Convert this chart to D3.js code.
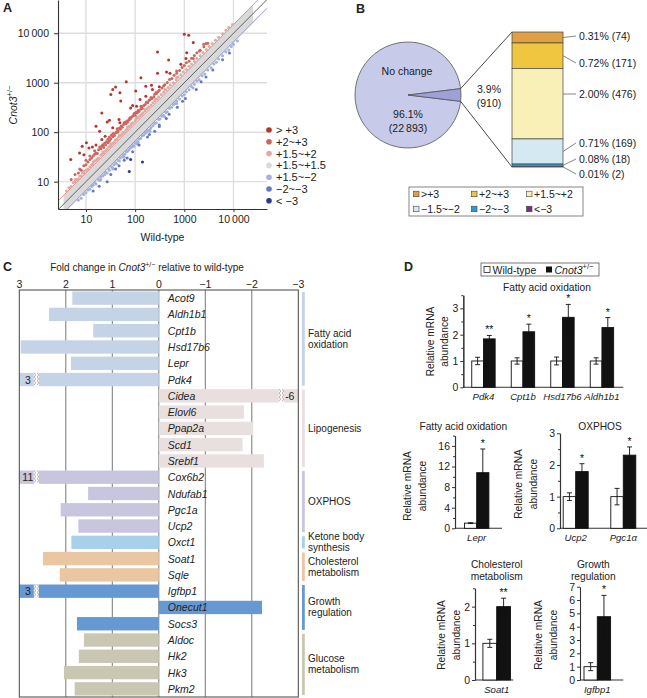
<!DOCTYPE html>
<html><head><meta charset="utf-8">
<script src="https://cdn.jsdelivr.net/npm/d3@7/dist/d3.min.js"></script>
<style>
html,body{margin:0;padding:0;background:#fff;}
svg{display:block;font-family:"Liberation Sans",Arial,Helvetica,sans-serif;}
</style></head><body>
<svg id="fig" width="647" height="698"></svg>
<script>
// ======================= DATA =======================
// ---- Panel A: scatter, [wild-type, Cnot3+/-] ----
const aTicks = [10, 100, 1000, 10000];
const aTickLabels = ["10", "100", "1000", "10\u2009000"];
const aLegendLabels = ["> +3", "+2~+3", "+1.5~+2", "+1.5~+1.5", "+1.5~\u22122", "\u22122~\u22123", "< \u22123"];
const aRefRatios = [1, 1.5, 1 / 1.5];
const aNoChangeRange = [3.5, 25000];
const aUp3 = [[1000,9500],[1230,9100],[1520,6500],[1120,4050],[285,4200],[480,2880],[1080,3080],[850,2350],[435,1650],[510,1550],[285,1550],[131,1260],[66,1050],[40,815],[35,730],[32,580],[49,630],[215,890],[225,730],[310,830],[103,680],[165,535],[51,425],[81,310],[107,335],[89,345],[21,245],[27,160],[16,132],[30,175],[47,180],[35,123],[19,105],[24.5,83],[8.4,52],[10.2,61],[13.5,50],[7.4,38],[9.1,35],[11.5,48],[16,55],[4.9,28],[21,71],[49,155],[126,460],[165,850]];
const aUp2 = [[5,11],[6,14],[7,15],[7.5,18],[8,17],[9,21],[10,22],[10,27],[11,25],[12,28],[12,33],[13,30],[14,33],[15,36],[15,42],[16,38],[17,37],[18,44],[19,50],[20,46],[21,52],[22,56],[23,49],[24,60],[25,55],[26,64],[28,61],[28,72],[30,66],[30,80],[32,73],[33,88],[35,81],[36,94],[38,86],[40,96],[42,102],[43,118],[45,106],[48,122],[50,114],[52,133],[55,126],[58,143],[62,158],[65,148],[68,168],[70,158],[75,176],[78,195],[80,186],[85,202],[90,212],[95,232],[100,221],[105,252],[110,243],[115,275],[120,262],[130,292],[135,325],[140,302],[150,345],[160,362],[170,405],[180,392],[190,435],[200,452],[210,505],[220,482],[240,523],[250,585],[270,603],[290,655],[310,705],[350,785],[380,860],[400,905],[450,1010],[500,1160],[560,1215],[620,1410],[700,1560],[800,1760],[900,2020],[1000,2230],[1100,2520],[1250,2720],[1400,3120],[1600,3530],[1800,4030],[2100,4520],[2500,5350],[3000,6250],[2470,6000],[2760,6200],[2030,4400],[1520,3080],[695,1730],[265,630],[131,335],[60,155],[76,180],[44,100],[96,240]];
const aUp15 = [[4,6.5],[4.5,7.5],[5,8],[5.5,9.5],[6,10],[6.5,11],[7,11.5],[7.5,13],[8,13],[8.5,15],[9,15],[10,17],[11,18],[12,20],[13,22],[14,23],[15,26],[16,27],[17,29],[18,30],[20,34],[21,36],[23,38],[25,42],[27,45],[29,50],[31,52],[33,57],[35,60],[38,64],[40,70],[43,72],[46,80],[50,85],[53,90],[57,98],[60,100],[65,112],[70,118],[75,130],[80,135],[85,148],[90,155],[100,170],[105,185],[115,195],[125,215],[135,230],[145,250],[160,270],[175,300],[190,325],[210,355],[230,395],[250,430],[280,470],[300,520],[340,580],[380,640],[420,720],[470,800],[520,900],[600,1000],[680,1150],[750,1300],[850,1450],[950,1650],[1100,1850],[1250,2150],[1400,2400],[1600,2700],[1800,3100],[2100,3500],[2400,4100],[2800,4700],[3200,5400],[3700,6200],[4300,7200],[5000,8300],[6000,9800],[7000,11500],[8000,13000],[9500,15000],[6,11],[9,16.5],[14,25],[22,40],[32,58],[48,88],[70,128],[110,200],[160,290],[260,470],[400,730],[700,1280]];
const aDown15 = [[7,4.2],[8,4.6],[9,5.5],[10,6],[11,6.8],[12,7],[13,8],[14,8.5],[15,9.5],[16,9],[18,11],[19,10.5],[20,12.5],[22,13],[24,14],[25,15.5],[27,15],[29,18],[30,17],[33,20],[35,19],[37,22],[40,24],[42,23],[45,27],[48,26],[50,30],[55,32],[58,35],[62,36],[66,40],[70,41],[75,44],[80,48],[85,50],[90,54],[95,52],[100,60],[110,65],[115,62],[120,72],[130,75],[140,85],[150,88],[160,95],[170,100],[180,108],[200,115],[210,125],[230,135],[250,150],[270,155],[300,180],[320,185],[350,210],[380,220],[420,250],[450,260],[500,300],[550,320],[600,360],[650,380],[700,420],[800,470],[900,540],[1000,580],[1100,660],[1250,720],[1400,840],[1600,930],[1800,1080],[2000,1150],[2300,1380],[2600,1500],[3000,1800],[3500,2000],[4000,2400],[4500,2600],[5000,3000],[6000,3500],[7000,4200],[8000,4600],[9000,5400],[10000,6000],[12000,7000],[20,11],[35,18],[60,31],[110,58],[200,105],[400,205],[700,380],[1500,780]];
const aDown2 = [[2200,1050],[1750,730],[1050,480],[8300,4000],[490,230],[310,140],[195,90],[120,55],[89,40],[47,21],[40,18],[27,10],[18.6,8.1],[32,14],[178,80],[310,130],[720,320],[2760,1300],[3800,1800],[6000,2900],[69,30],[430,190],[920,420],[14,6.5],[60,27],[250,105]];
const aDown3 = [[81,28],[76,16],[141,25]];

// ---- Panel B: pie + stacked bar ----
const bPieValues = [22893, 910];
const bPiePct = ["96.1%", "3.9%"];
const bPieCountText = ["(22\u2009893)", "(910)"];
const bPieTitle = "No change";
const bStackLabels = [">+3", "+2~+3", "+1.5~+2", "\u22121.5~\u22122", "\u22122~\u22123", "<\u22123"];
const bStackCounts = [74, 171, 476, 169, 18, 2];
const bStackPct = ["0.31%", "0.72%", "2.00%", "0.71%", "0.08%", "0.01%"];

// ---- Panel C: fold changes ----
const cTicks = [3, 2, 1, 0, -1, -2, -3];
const cTickLabels = ["3", "2", "1", "0", "\u22121", "\u22122", "\u22123"];
const cGenes = ["Acot9","Aldh1b1","Cpt1b","Hsd17b6","Lepr","Pdk4","Cidea","Elovl6","Ppap2a","Scd1","Srebf1","Cox6b2","Ndufab1","Pgc1a","Ucp2","Oxct1","Soat1","Sqle","Igfbp1","Onecut1","Socs3","Aldoc","Hk2","Hk3","Pkm2"];
const cValues = [1.86,2.36,1.41,2.97,1.89,3,-6,-1.83,-2.03,-1.8,-2.26,11,1.52,2.11,1.73,1.88,2.49,2.13,3,-2.22,1.76,1.61,1.72,2.04,1.81];
const cBrokenLabels = {Pdk4: "3", Cidea: "-6", Cox6b2: "11", Igfbp1: "3"};
const cGroupOf = [0,0,0,0,0,0,1,1,1,1,1,2,2,2,2,3,4,4,5,5,5,6,6,6,6];
const cGroupNames = [["Fatty acid","oxidation"],["Lipogenesis"],["OXPHOS"],["Ketone body","synthesis"],["Cholesterol","metabolism"],["Growth","regulation"],["Glucose","metabolism"]];

// ---- Panel D: qPCR ----
const dLegend = ["Wild-type", "Cnot3"];
const dFaoGenes = ["Pdk4","Cpt1b","Hsd17b6","Aldh1b1"];
const dFaoWT = [1,1,1,1], dFaoWTErr = [0.14,0.12,0.15,0.12];
const dFaoKO = [1.84,2.11,2.66,2.27], dFaoKOErr = [0.13,0.29,0.49,0.38];
const dFaoSig = ["**","*","*","*"];
const dLeprGenes = ["Lepr"], dLeprWT = [1], dLeprWTErr = [0.08], dLeprKO = [10.8], dLeprKOErr = [4.6], dLeprSig = ["*"];
const dOxGenes = ["Ucp2","Pgc1\u03b1"], dOxWT = [1,1], dOxWTErr = [0.12,0.26], dOxKO = [1.79,2.31], dOxKOErr = [0.25,0.26], dOxSig = ["*","*"];
const dCholGenes = ["Soat1"], dCholWT = [1], dCholWTErr = [0.11], dCholKO = [2.0], dCholKOErr = [0.23], dCholSig = ["**"];
const dGrowGenes = ["Igfbp1"], dGrowWT = [1], dGrowWTErr = [0.3], dGrowKO = [4.75], dGrowKOErr = [1.6], dGrowSig = ["*"];

// ======================= DRAW =======================
const svg = d3.select("#fig");
svg.append("rect").attr("width", 647).attr("height", 698).attr("fill", "#fff");
const defs = svg.append("defs");
const INK = "#222";

function txt(g, x, y, s, size, o = {}) {
  const t = g.append("text").attr("x", x).attr("y", y).attr("font-size", size)
    .attr("fill", o.fill || INK).attr("text-anchor", o.anchor || "start")
    .attr("dominant-baseline", o.baseline || "central");
  if (o.italic) t.attr("font-style", "italic");
  if (o.bold) t.attr("font-weight", "bold");
  if (o.rotate) t.attr("transform", `rotate(${o.rotate},${x},${y})`);
  if (s !== null) t.text(s);
  return t;
}
function styleAxis(g, size) {
  g.attr("font-family", null).attr("font-size", null);
  g.selectAll("path.domain").attr("stroke", "#333").attr("stroke-width", 1.1);
  g.selectAll(".tick line").attr("stroke", "#333");
  g.selectAll(".tick text").attr("fill", INK).attr("font-size", size);
}

// panel letters
txt(svg, 3, 8, "A", 12.5, {bold: true});
txt(svg, 356, 9, "B", 12.5, {bold: true});
txt(svg, 3, 267, "C", 12.5, {bold: true});
txt(svg, 404, 267, "D", 12.5, {bold: true});

// ---------------- Panel A ----------------
(function () {
  const A = {l: 58, r: 267, t: 0, b: 209};
  const ax = d3.scaleLog().domain([2.7, 48000]).range([A.l, A.r]);
  const ay = d3.scaleLog().domain([2.8, 47000]).range([A.b, A.t]);
  defs.append("clipPath").attr("id", "clipA").append("rect")
    .attr("x", A.l).attr("y", A.t).attr("width", A.r - A.l).attr("height", A.b - A.t);
  const g = svg.append("g");
  g.append("g").selectAll("line").data(aTicks).join("line")
    .attr("x1", d => ax(d)).attr("x2", d => ax(d)).attr("y1", A.t).attr("y2", A.b)
    .attr("stroke", "#dedede").attr("stroke-width", 1.4);
  g.append("g").selectAll("line").data(aTicks).join("line")
    .attr("y1", d => ay(d)).attr("y2", d => ay(d)).attr("x1", A.l).attr("x2", A.r)
    .attr("stroke", "#dedede").attr("stroke-width", 1.4);
  const p = g.append("g").attr("clip-path", "url(#clipA)");
  p.append("path").datum(aNoChangeRange)
    .attr("d", d3.area().x(d => ax(d)).y0(d => ay(d / aRefRatios[1])).y1(d => ay(d * aRefRatios[1])))
    .attr("fill", "#d9d9d9");
  const refColors = ["#444", "#e07a6c", "#6f7ec8"];
  const dom = ax.domain();
  p.selectAll("path.ref").data(aRefRatios).join("path").attr("class", "ref")
    .attr("d", r => d3.line()([[ax(dom[0]), ay(dom[0] * r)], [ax(dom[1]), ay(dom[1] * r)]]))
    .attr("stroke", (r, i) => refColors[i]).attr("stroke-width", 0.8).attr("fill", "none");
  const colors = ["#b5352d", "#cd675e", "#dfaaa5", "#d9d9d9", "#a4b1de", "#6478c4", "#283a8e"];
  const series = [[aUp15, 2], [aDown15, 4], [aUp2, 1], [aDown2, 5], [aUp3, 0], [aDown3, 6]];
  series.forEach(([pts, ci]) => {
    p.append("g").selectAll("circle").data(pts).join("circle")
      .attr("cx", d => ax(d[0])).attr("cy", d => ay(d[1])).attr("r", 1.5)
      .attr("fill", colors[ci]);
  });
  const yAx = g.append("g").attr("transform", `translate(${A.l},0)`)
    .call(d3.axisLeft(ay).tickValues(aTicks).tickFormat((d, i) => aTickLabels[i]).tickSize(4).tickSizeOuter(0).tickPadding(5));
  styleAxis(yAx, 10.5);
  const xAx = g.append("g").attr("transform", `translate(0,${A.b})`)
    .call(d3.axisBottom(ax).tickValues(aTicks).tickFormat((d, i) => aTickLabels[i]).tickSize(3).tickSizeOuter(0).tickPadding(4));
  styleAxis(xAx, 10.5);
  txt(g, (A.l + A.r) / 2, 237, "Wild-type", 10.5, {anchor: "middle"});
  const yl = txt(g, 13, 105, null, 10.5, {anchor: "middle", rotate: -90});
  yl.append("tspan").attr("font-style", "italic").text("Cnot3");
  yl.append("tspan").attr("font-size", 7.5).attr("dy", -4).text("+/\u2212");
  // legend
  const lg = g.append("g");
  aLegendLabels.forEach((s, i) => {
    const y = 130 + i * 11.8;
    lg.append("circle").attr("cx", 269).attr("cy", y).attr("r", 2.8).attr("fill", colors[i]);
    txt(lg, 276, y, s, 11, {});
  });
})();

// ---------------- Panel B ----------------
(function () {
  const g = svg.append("g");
  const c = {x: 408, y: 95, r: 53};
  const total = d3.sum(bPieValues);
  const half = Math.PI * bPieValues[1] / total;
  const arcs = d3.pie().sort(null).startAngle(Math.PI / 2 + half).endAngle(Math.PI / 2 + half + 2 * Math.PI)(bPieValues);
  const arc = d3.arc().innerRadius(0).outerRadius(c.r);
  const pieColors = ["#c8cae9", "#9da1d8"];
  g.selectAll("path.slice").data(arcs).join("path").attr("class", "slice")
    .attr("transform", `translate(${c.x},${c.y})`).attr("d", arc)
    .attr("fill", (d, i) => pieColors[i]).attr("stroke", "#555").attr("stroke-width", 0.8);
  const pt = a => [c.x + c.r * Math.sin(a), c.y - c.r * Math.cos(a)];
  const tipTop = pt(arcs[1].startAngle), tipBot = pt(arcs[1].endAngle);
  txt(g, 407, 71, bPieTitle, 10.5, {anchor: "middle"});
  txt(g, 408, 114, bPiePct[0], 10.5, {anchor: "middle"});
  txt(g, 408, 128, bPieCountText[0], 10.5, {anchor: "middle"});
  txt(g, 489, 89, bPiePct[1], 10.5, {anchor: "middle"});
  txt(g, 489, 103, bPieCountText[1], 10.5, {anchor: "middle"});
  // stacked bar
  const bx0 = 512, bx1 = 563;
  const sTotal = d3.sum(bStackCounts);
  const sy = d3.scaleLinear().domain([0, sTotal]).range([32, 167]);
  const starts = Array.from(d3.cumsum([0, ...bStackCounts]));
  const stackColors = ["#dea043", "#f0c53f", "#f8f0b6", "#d4e9f2", "#2f98cf", "#7b2b8c"];
  g.append("line").attr("x1", tipTop[0]).attr("y1", tipTop[1]).attr("x2", bx0).attr("y2", sy(0)).attr("stroke", "#333").attr("stroke-width", 0.9);
  g.append("line").attr("x1", tipBot[0]).attr("y1", tipBot[1]).attr("x2", bx0).attr("y2", sy(sTotal)).attr("stroke", "#333").attr("stroke-width", 0.9);
  g.selectAll("rect.seg").data(bStackCounts).join("rect").attr("class", "seg")
    .attr("x", bx0).attr("width", bx1 - bx0)
    .attr("y", (d, i) => sy(starts[i])).attr("height", d => sy(d) - sy(0))
    .attr("fill", (d, i) => stackColors[i]).attr("stroke", "#444").attr("stroke-width", 0.7);
  const labelY = [36, 63, 94, 143, 159, 174];
  bStackCounts.forEach((d, i) => {
    const top = sy(starts[i]), bot = sy(starts[i + 1]);
    const mid = (top + bot) / 2;
    const sy0 = (labelY[i] >= top && labelY[i] <= bot && bot - top > 40) ? labelY[i] : mid;
    g.append("line").attr("x1", bx1).attr("y1", sy0).attr("x2", 576).attr("y2", labelY[i]).attr("stroke", "#666").attr("stroke-width", 0.8);
    txt(g, 579, labelY[i], `${bStackPct[i]} (${d})`, 10.5, {});
  });
  // legend
  g.append("rect").attr("x", 409).attr("y", 187).attr("width", 174).attr("height", 29)
    .attr("fill", "#fff").attr("stroke", "#666").attr("stroke-width", 0.8);
  const colX = [416, 474, 529], rowY = [194, 209];
  bStackLabels.forEach((s, i) => {
    const x = colX[i % 3], y = rowY[Math.floor(i / 3)];
    g.append("rect").attr("x", x - 2.5).attr("y", y - 2.8).attr("width", 5.5).attr("height", 5.5)
      .attr("fill", stackColors[i]).attr("stroke", "#444").attr("stroke-width", 0.6);
    txt(g, x + 5, y, s, 10.5, {});
  });
})();

// ---------------- Panel C ----------------
(function () {
  const g = svg.append("g");
  const box = {l: 19.3, r: 298.3, t: 290, b: 697};
  const cx = d3.scaleLinear().domain([3, -3]).range([box.l, box.r]);
  const cy = d3.scaleBand().domain(cGenes).range([box.t, box.b]).paddingInner(0.18).paddingOuter(0.09);
  const groupColors = ["#c5d3e7", "#e9dfdf", "#c8c5de", "#a7d1ea", "#eac6a3", "#6699d3", "#c9c7b1"];
  const t = txt(g, 147, 267, "Fold change in ", 10, {anchor: "middle"});
  t.append("tspan").attr("font-style", "italic").text("Cnot3");
  t.append("tspan").attr("font-size", 7).attr("dy", -3.5).text("+/\u2212");
  t.append("tspan").attr("dy", 3.5).text(" relative to wild-type");
  cTicks.forEach((v, i) => txt(g, cx(v), 283.5, cTickLabels[i], 10.5, {anchor: "middle"}));
  g.append("g").selectAll("line").data(cTicks.slice(1, -1)).join("line")
    .attr("x1", d => cx(d)).attr("x2", d => cx(d)).attr("y1", box.t).attr("y2", box.b)
    .attr("stroke", "#555").attr("stroke-width", 0.8);
  const lim = v => Math.max(-3, Math.min(3, v));
  g.append("g").selectAll("rect").data(cGenes).join("rect")
    .attr("x", (d, i) => Math.min(cx(0), cx(lim(cValues[i]))))
    .attr("width", (d, i) => Math.abs(cx(lim(cValues[i])) - cx(0)))
    .attr("y", d => cy(d)).attr("height", cy.bandwidth())
    .attr("fill", (d, i) => groupColors[cGroupOf[i]]);
  function squiggle(x, y, h) {
    g.append("rect").attr("x", x - 0.5).attr("y", y).attr("width", 5).attr("height", h).attr("fill", "#fff");
    [x, x + 3].forEach(xx => {
      let d = `M${xx},${y}`;
      for (let k = 1; k * 2 <= h; k++) d += `L${xx + (k % 2 ? 1.3 : 0)},${y + k * 2}`;
      g.append("path").attr("d", d).attr("fill", "none").attr("stroke", "#888").attr("stroke-width", 0.7);
    });
  }
  cGenes.forEach((gname, i) => {
    if (cBrokenLabels[gname] === undefined) return;
    const end = cx(lim(cValues[i])), y = cy(gname), h = cy.bandwidth();
    const dir = cValues[i] > 0 ? 1 : -1;
    txt(g, end + dir * 8.5, y + h / 2, cBrokenLabels[gname], 10.5, {anchor: "middle"});
    squiggle(dir > 0 ? end + 15 : end - 19, y, h);
  });
  g.append("rect").attr("x", box.l).attr("y", box.t).attr("width", box.r - box.l).attr("height", box.b - box.t)
    .attr("fill", "none").attr("stroke", "#444").attr("stroke-width", 1);
  cGenes.forEach(d => txt(g, cx(0) + 9, cy(d) + cy.bandwidth() / 2, d, 10.5, {italic: true}));
  cGroupNames.forEach((names, gi) => {
    const idx = cGenes.filter((d, i) => cGroupOf[i] === gi);
    const y0 = cy(idx[0]) - cy.step() * cy.paddingInner() / 2 + 2;
    const y1 = cy(idx[idx.length - 1]) + cy.bandwidth() + cy.step() * cy.paddingInner() / 2 - 2;
    g.append("rect").attr("x", 302).attr("y", y0).attr("width", 2.8).attr("height", Math.min(y1, 698) - y0)
      .attr("fill", groupColors[gi]);
    const mid = (y0 + y1) / 2;
    names.forEach((s, k) => txt(g, 308, mid + (k - (names.length - 1) / 2) * 11, s, 10, {}));
  });
})();

// ---------------- Panel D ----------------
(function () {
  const g = svg.append("g");
  g.append("rect").attr("x", 481).attr("y", 263).attr("width", 118).attr("height", 13)
    .attr("fill", "#fff").attr("stroke", "#555").attr("stroke-width", 0.8);
  g.append("rect").attr("x", 484).attr("y", 266.5).attr("width", 6).attr("height", 6).attr("fill", "#fff").attr("stroke", "#222").attr("stroke-width", 0.8);
  txt(g, 492.5, 269.5, dLegend[0], 10.5, {});
  g.append("rect").attr("x", 546).attr("y", 266.5).attr("width", 6).attr("height", 6).attr("fill", "#111");
  const lt = txt(g, 554.5, 269.5, null, 10.5, {});
  lt.append("tspan").attr("font-style", "italic").text(dLegend[1]);
  lt.append("tspan").attr("font-size", 7.5).attr("dy", -3.5).text("+/\u2212");

  const charts = [
    {genes: dFaoGenes, wt: dFaoWT, wtErr: dFaoWTErr, ko: dFaoKO, koErr: dFaoKOErr, sig: dFaoSig,
     yMax: 3.5, major: [0, 1, 2, 3], minor: 0.5, axisX: 463.3, xEnd: 623.3, band: [463.7, 621.7], y0: 387.3, yTop: 295.2,
     barW: 11.7, title: ["Fatty acid oxidation"], tx: 547, ty: 287.5, yl: [430, 444.5], yly: 341.5},
    {genes: dLeprGenes, wt: dLeprWT, wtErr: dLeprWTErr, ko: dLeprKO, koErr: dLeprKOErr, sig: dLeprSig,
     yMax: 18, major: [0, 4, 8, 12, 16], minor: 2, axisX: 455, xEnd: 502, band: [455, 498.4], y0: 528.3, yTop: 435.6,
     barW: 12.2, title: ["Fatty acid oxidation"], tx: 463.3, ty: 426, yl: [407.5, 422], yly: 486},
    {genes: dOxGenes, wt: dOxWT, wtErr: dOxWTErr, ko: dOxKO, koErr: dOxKOErr, sig: dOxSig,
     yMax: 3, major: [0, 1, 2, 3], minor: 0.5, axisX: 560, xEnd: 647, band: [551.9, 647.1], y0: 528.3, yTop: 433.3,
     barW: 12.5, title: ["OXPHOS"], tx: 600, ty: 426, yl: [518.5, 533], yly: 484},
    {genes: dCholGenes, wt: dCholWT, wtErr: dCholWTErr, ko: dCholKO, koErr: dCholKOErr, sig: dCholSig,
     yMax: 2.5, major: [0, 1, 2], minor: 0.5, axisX: 475, xEnd: 513.3, band: [475, 518.4], y0: 680, yTop: 588.3,
     barW: 13.8, title: ["Cholesterol", "metabolism"], tx: 496.7, ty: 564.3, yl: [441.5, 456], yly: 635},
    {genes: dGrowGenes, wt: dGrowWT, wtErr: dGrowWTErr, ko: dGrowKO, koErr: dGrowKOErr, sig: dGrowSig,
     yMax: 7, major: [0, 1, 2, 3, 4, 5, 6, 7], minor: null, axisX: 580, xEnd: 623.3, band: [580, 614.6], y0: 680, yTop: 586.7,
     barW: 13.3, title: ["Growth", "regulation"], tx: 593.3, ty: 564.3, yl: [538.5, 553], yly: 635}
  ];
  charts.forEach(c => {
    const cg = g.append("g");
    const y = d3.scaleLinear().domain([0, c.yMax]).range([c.y0, c.yTop]);
    const x = d3.scaleBand().domain(c.genes).range(c.band);
    c.title.forEach((s, k) => txt(cg, c.tx, c.ty + k * 11.7, s, 10.2, {anchor: "middle"}));
    txt(cg, c.yl[0], c.yly, "Relative mRNA", 10.2, {anchor: "middle", rotate: -90});
    txt(cg, c.yl[1], c.yly, "abundance", 10.2, {anchor: "middle", rotate: -90});
    if (c.minor) {
      const minors = d3.range(0, c.yMax + 1e-9, c.minor).filter(v => !c.major.includes(v));
      const mAx = cg.append("g").attr("transform", `translate(${c.axisX},0)`)
        .call(d3.axisLeft(y).tickValues(minors).tickFormat("").tickSize(2).tickSizeOuter(0));
      styleAxis(mAx, 10);
    }
    const yAx = cg.append("g").attr("transform", `translate(${c.axisX},0)`)
      .call(d3.axisLeft(y).tickValues(c.major).tickFormat(d3.format("d")).tickSize(3).tickSizeOuter(0).tickPadding(2));
    styleAxis(yAx, 10.5);
    cg.append("line").attr("x1", c.axisX).attr("x2", c.xEnd).attr("y1", c.y0).attr("y2", c.y0).attr("stroke", "#333").attr("stroke-width", 1.1);
    const cx0 = d => x(d) + x.bandwidth() / 2;
    const bars = [
      {vals: c.wt, err: c.wtErr, off: -c.barW, fill: "#fff"},
      {vals: c.ko, err: c.koErr, off: 0, fill: "#111"}
    ];
    bars.forEach(b => {
      cg.append("g").selectAll("rect").data(c.genes).join("rect")
        .attr("x", d => cx0(d) + b.off).attr("width", c.barW)
        .attr("y", (d, i) => y(b.vals[i])).attr("height", (d, i) => c.y0 - y(b.vals[i]))
        .attr("fill", b.fill).attr("stroke", "#111").attr("stroke-width", 0.9);
      c.genes.forEach((d, i) => {
        const xm = cx0(d) + b.off + c.barW / 2;
        const lo = y(b.vals[i] - b.err[i]), hi = y(b.vals[i] + b.err[i]);
        cg.append("path").attr("d", `M${xm},${lo}V${hi}M${xm - 2.5},${hi}H${xm + 2.5}M${xm - 2.5},${lo}H${xm + 2.5}`)
          .attr("stroke", "#111").attr("stroke-width", 0.9).attr("fill", "none");
      });
    });
    c.genes.forEach((d, i) => {
      const xm = cx0(d) + c.barW / 2;
      txt(cg, xm, y(c.ko[i] + c.koErr[i]) - 2, c.sig[i], 10.5, {anchor: "middle", baseline: "alphabetic", fill: "#111"});
      txt(cg, cx0(d), c.y0 + 9.5, d, 9.6, {anchor: "middle", italic: true});
    });
  });
})();
</script>
</body></html>
